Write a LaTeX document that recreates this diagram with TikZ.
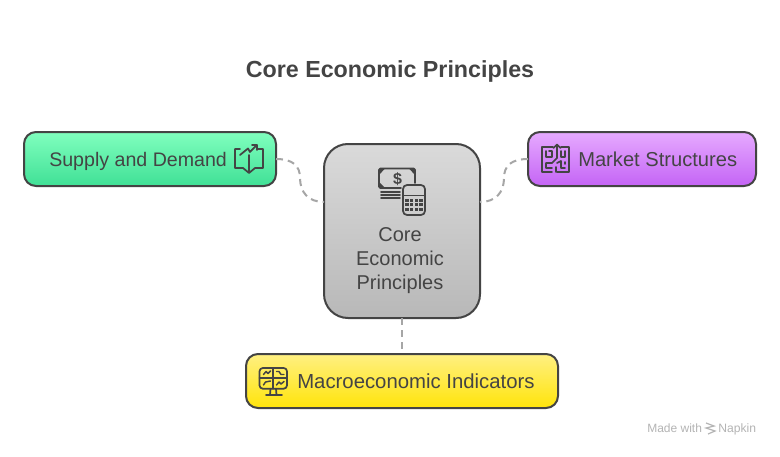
\documentclass[tikz,border=0pt]{standalone}
\usepackage{fontspec}
\setmainfont{Liberation Sans}
\definecolor{ink}{HTML}{444444}
\definecolor{conn}{HTML}{A6A6A6}
\definecolor{wmark}{HTML}{B4B4B4}
\tikzset{
  x=0.75pt,y=-0.75pt,
  box/.style={draw=ink,line width=1.5pt,inner sep=0pt,outer sep=0pt,anchor=north west},
  label/.style={text=ink,inner sep=0pt,anchor=base west},
  link/.style={draw=conn,line width=1.5pt,dash pattern=on 5.25pt off 3.75pt},
  ico/.style={draw=ink,line width=1.3pt,line cap=round,line join=round,fill=none},
  icofine/.style={draw=ink,line width=1.1pt,line cap=round,line join=round,fill=none}
}
\begin{document}
\begin{tikzpicture}
\useasboundingbox (0,0) rectangle (780,456);
\fill[white] (0,0) rectangle (780,456);

\node[text=ink,font=\bfseries\fontsize{17.45}{22}\selectfont,inner sep=0pt,anchor=base] (title) at (390,78) {Core Economic Principles};

% connectors
\coordinate (cl) at (324,202);
\coordinate (cr) at (480,202);
\coordinate (cb) at (402,318);
\coordinate (mt) at (402,354);

% boxes
\node[box,rounded corners=9pt,minimum width=189pt,minimum height=40.5pt,top color={rgb,255:red,128;green,255;blue,190},bottom color={rgb,255:red,64;green,224;blue,150}] (supply) at (24,132) {};
\node[box,rounded corners=9pt,minimum width=171pt,minimum height=40.5pt,top color={rgb,255:red,230;green,170;blue,255},bottom color={rgb,255:red,196;green,100;blue,245}] (market) at (528,132) {};
\node[box,rounded corners=9pt,minimum width=234pt,minimum height=40.5pt,top color={rgb,255:red,255;green,240;blue,130},bottom color={rgb,255:red,255;green,228;blue,10}] (macro) at (246,354) {};
\node[box,rounded corners=18pt,minimum width=117pt,minimum height=130.5pt,top color={rgb,255:red,218;green,218;blue,218},bottom color={rgb,255:red,184;green,184;blue,184}] (core) at (324,144) {};

\draw[link] (supply.east) .. controls (293,159) and (300,166) .. (300,178) .. controls (300,192) and (308,202) .. (cl);
\draw[link] (market.west) .. controls (511,159) and (504,166) .. (504,178) .. controls (504,192) and (496,202) .. (cr);
\draw[link] (cb) -- (mt);

% labels
\node[label,font=\fontsize{14.7}{18}\selectfont] (l1) at (49,166) {Supply and Demand};
\node[label,font=\fontsize{15.1}{18}\selectfont] (l2) at (578,166) {Market Structures};
\node[label,font=\fontsize{15.25}{18}\selectfont] (l3) at (297,388) {Macroeconomic Indicators};
\node[label,anchor=base,font=\fontsize{15}{18}\selectfont] (c1) at (400,241) {Core};
\node[label,anchor=base,font=\fontsize{15}{18}\selectfont] (c2) at (400,265) {Economic};
\node[label,anchor=base,font=\fontsize{15}{18}\selectfont] (c3) at (400,289) {Principles};

% book icon
\draw[ico] (240,149) -- (235,149) -- (235,168) -- (243,168) -- (249,173) -- (255,168) -- (263,168) -- (263,149) -- (258,149);
\draw[ico] (249,155) -- (249,172);
\draw[ico] (240,155) -- (248,148.5) -- (250,152) -- (256.7,145);
\draw[ico] (252,145) -- (257,145) -- (257,150);

% money and calculator icon
\draw[ico,rounded corners=1pt] (415,183) -- (415,168.5) -- (379,168.5) -- (379,188) -- (401,188);
\fill[ink] (379,168.5) -- (385,168.5) -- (379,175) -- cycle (415,168.5) -- (409,168.5) -- (415,175) -- cycle (379,188) -- (385,188) -- (379,182) -- cycle;
\node[text=ink,font=\bfseries\fontsize{12}{12}\selectfont,inner sep=0pt] (dollar) at (397.5,179) {\$};
\draw[ico] (381,192) -- (400,192) (381,195) -- (400,195) (381,198) -- (400,198);
\draw[ico,rounded corners=3pt] (403,185) rectangle (425,215);
\draw[ico] (403,195.5) -- (425,195.5);
\foreach \yy in {200,204.5,209} \foreach \xx in {407,411.7,416.3,421}
  \fill[ink] (\xx,\yy) +(-1.6,-1.5) rectangle +(1.6,1.5);

% maze icon
\draw[ico] (553,147) -- (542,147) -- (542,172) -- (552,172);
\draw[ico] (561,147) -- (569,147) -- (569,172) -- (557,172);
\draw[ico] (546,151) -- (546,157) -- (552,157) -- (552,151) -- (549,151);
\draw[ico] (557,145) -- (557,158) -- (552,163) -- (546,163) -- (546,168) -- (552,168);
\draw[ico] (553.5,148) -- (557,144.5) -- (560.5,148);
\draw[ico] (561,151) -- (561,157) -- (565,157) -- (565,151);
\draw[ico] (557,163) -- (561,161) -- (561,168) -- (565,168) (565,162) -- (565,164);
\draw[ico] (556,167) -- (556,172);

% monitor icon
\draw[ico,rounded corners=2.5pt] (259.5,368) rectangle (287,388.7);
\draw[ico] (273.2,368) -- (273.2,388.7) (259.5,378.3) -- (287,378.3);
\draw[ico] (270.5,388.7) -- (270,395) (276,388.7) -- (276.5,395) (266,395) -- (282,395);
\draw[icofine] (263.5,374.5) -- (266,371.5) -- (268,373.5) -- (270.5,371);
\draw[icofine] (276.5,371.5) -- (279,371.5) -- (281,374.5) -- (284,374.5);
\draw[icofine] (263.5,385) -- (265.5,382) -- (270.5,381);
\draw[icofine] (276.5,385) -- (279,382) -- (281,384) -- (284,381.5);

% watermark
\node[text=wmark,font=\fontsize{9}{10}\selectfont,inner sep=0pt,anchor=base west] (wm1) at (647,432) {Made with};
\node[text=wmark,font=\fontsize{9.1}{10}\selectfont,inner sep=0pt,anchor=base west] (wm2) at (718,432) {Napkin};
\draw[wmark,line width=0.9pt] (706,423) -- (714,426) -- (706,428) -- (715,431) -- (708,434);
\end{tikzpicture}
\end{document}
